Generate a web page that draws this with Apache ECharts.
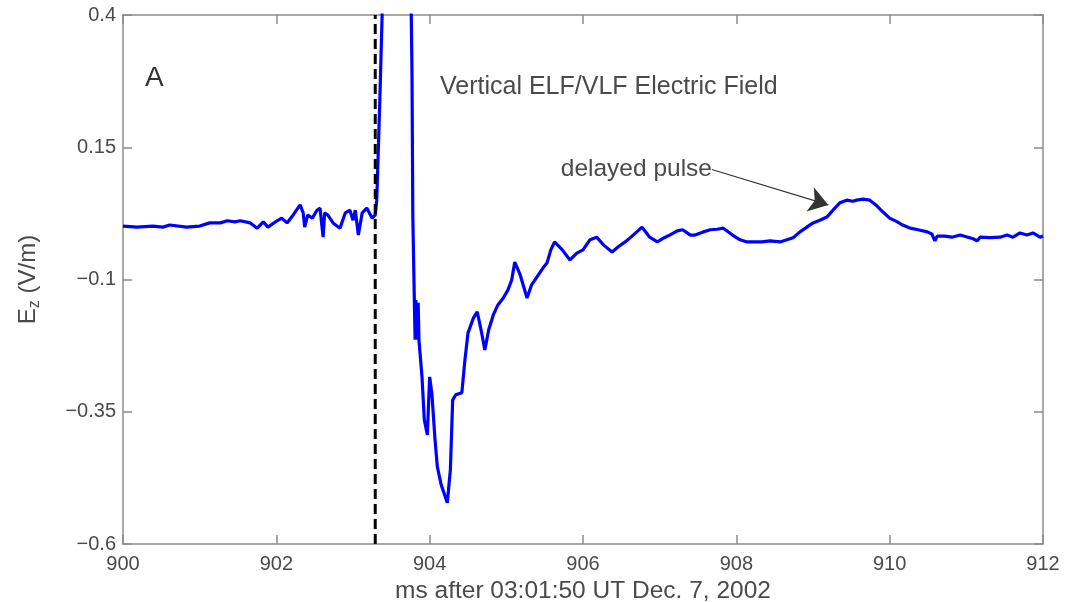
<!DOCTYPE html>
<html>
<head>
<meta charset="utf-8">
<script src="https://cdn.jsdelivr.net/npm/echarts@6/dist/echarts.min.js"></script>
<style>
html,body{margin:0;padding:0;background:#fff;}
#chart{width:1070px;height:602px;}
</style>
</head>
<body>
<div id="chart"></div>
<script>
// time axis (ms after 03:01:50 UT)
const timeMs = [900.00,900.18,900.39,900.52,900.61,900.83,901.00,901.13,901.27,901.36,901.46,901.53,901.66,901.75,901.83,901.89,902.01,902.07,902.14,902.22,902.31,902.35,902.37,902.41,902.47,902.53,902.57,902.61,902.63,902.67,902.74,902.83,902.90,902.96,903.00,903.03,903.07,903.12,903.18,903.25,903.29,903.31,903.33,903.35,903.38,903.45,903.65,903.76,903.77,903.78,903.80,903.81,903.82,903.84,903.85,903.86,903.87,903.90,903.93,903.97,903.99,904.00,904.03,904.07,904.10,904.15,904.23,904.27,904.30,904.34,904.42,904.46,904.50,904.57,904.62,904.67,904.72,904.77,904.83,904.89,904.96,905.02,905.07,905.11,905.18,905.27,905.33,905.40,905.48,905.53,905.58,905.63,905.73,905.83,905.92,906.00,906.09,906.18,906.27,906.38,906.46,906.55,906.64,906.77,906.87,906.97,907.06,907.13,907.23,907.30,907.40,907.46,907.57,907.66,907.75,907.83,907.95,908.05,908.14,908.22,908.33,908.44,908.57,908.66,908.74,908.83,908.92,909.00,909.09,909.18,909.26,909.35,909.44,909.52,909.57,909.65,909.74,909.82,909.91,910.00,910.10,910.17,910.27,910.37,910.49,910.55,910.59,910.62,910.72,910.81,910.92,911.02,911.09,911.14,911.18,911.31,911.44,911.53,911.61,911.70,911.79,911.87,911.96,912.00];
// vertical E field (V/m)
const ezField = [0.001,-0.001,0.001,-0.001,0.003,-0.001,0.001,0.007,0.007,0.011,0.009,0.011,0.007,-0.003,0.009,-0.001,0.011,0.016,0.007,0.022,0.041,0.026,-0.001,0.022,0.016,0.031,0.035,-0.020,0.026,0.022,0.007,-0.003,0.026,0.031,0.012,0.031,-0.016,0.026,0.035,0.016,0.022,0.050,0.145,0.239,0.400,1.0,1.0,0.400,0.283,0.022,-0.139,-0.214,-0.139,-0.214,-0.144,-0.214,-0.214,-0.284,-0.365,-0.394,-0.318,-0.284,-0.318,-0.403,-0.454,-0.488,-0.522,-0.460,-0.328,-0.318,-0.314,-0.252,-0.201,-0.173,-0.161,-0.195,-0.233,-0.195,-0.167,-0.148,-0.135,-0.120,-0.101,-0.067,-0.091,-0.135,-0.110,-0.095,-0.078,-0.069,-0.044,-0.029,-0.044,-0.063,-0.050,-0.044,-0.025,-0.020,-0.035,-0.048,-0.038,-0.029,-0.018,-0.001,-0.020,-0.029,-0.021,-0.016,-0.008,-0.006,-0.016,-0.016,-0.010,-0.006,-0.005,-0.003,-0.016,-0.025,-0.029,-0.029,-0.029,-0.027,-0.029,-0.025,-0.021,-0.010,-0.001,0.007,0.012,0.018,0.031,0.045,0.050,0.048,0.050,0.052,0.050,0.041,0.028,0.016,0.009,0.003,-0.003,-0.006,-0.010,-0.014,-0.027,-0.018,-0.018,-0.020,-0.016,-0.020,-0.023,-0.027,-0.020,-0.021,-0.020,-0.016,-0.020,-0.012,-0.016,-0.012,-0.020,-0.018];
const xTicks = [900, 902, 904, 906, 908, 910, 912];
const yTicks = [-0.6, -0.35, -0.1, 0.15, 0.4];
const onsetTime = [903.29, 903.29];
const onsetLevel = [-0.6, 0.4];
const arrowFrom = [907.68, 0.108];
const arrowTo = [909.20, 0.041];

const FONT = '"Liberation Sans", Arial, Helvetica, sans-serif';
const TXT = '#4a4a4a';
const AX = '#8c8c8c';

const fieldData = timeMs.map((t, i) => [t, ezField[i]]);
const onsetData = onsetTime.map((t, i) => [t, onsetLevel[i]]);
const fmtY = v => String(v).replace('-', '\u2212');

const chart = echarts.init(document.getElementById('chart'), null, {renderer: 'canvas'});
const axisCommon = {
  axisLine: {show: true, onZero: false, lineStyle: {color: AX, width: 1.5}},
  splitLine: {show: false}
};
chart.setOption({
  animation: false,
  backgroundColor: '#ffffff',
  grid: {left: 123, right: 27, top: 15, bottom: 58, containLabel: false, outerBoundsMode: 'none'},
  xAxis: [
    Object.assign({
      type: 'value', min: 900, max: 912, interval: 2, position: 'bottom',
      axisTick: {show: true, inside: true, length: 9, customValues: xTicks, lineStyle: {color: AX, width: 1.5}},
      axisLabel: {show: true, customValues: xTicks, margin: 10, color: TXT, fontSize: 20, fontFamily: FONT},
      name: 'ms after 03:01:50 UT Dec. 7, 2002', nameLocation: 'middle', nameGap: 30,
      nameTextStyle: {color: TXT, fontSize: 24.5, fontFamily: FONT}
    }, axisCommon),
    Object.assign({
      type: 'value', min: 900, max: 912, interval: 2, position: 'top',
      axisTick: {show: true, inside: true, length: 9, customValues: xTicks, lineStyle: {color: AX, width: 1.5}},
      axisLabel: {show: false}
    }, axisCommon)
  ],
  yAxis: [
    Object.assign({
      type: 'value', min: -0.6, max: 0.4, interval: 0.25, position: 'left',
      axisTick: {show: true, inside: true, length: 9, customValues: yTicks, lineStyle: {color: AX, width: 1.5}},
      axisLabel: {show: true, customValues: yTicks, margin: 7, color: TXT, fontSize: 20, fontFamily: FONT, formatter: fmtY},
      name: '{e|E}{s|z}{e| (V/m)}', nameLocation: 'middle', nameGap: 80, nameRotate: 90,
      nameTextStyle: {color: TXT, fontFamily: FONT, rich: {
        e: {fontSize: 24, color: TXT, fontFamily: FONT},
        s: {fontSize: 16, color: TXT, fontFamily: FONT, padding: [14, 0, 0, 0]}
      }}
    }, axisCommon),
    Object.assign({
      type: 'value', min: -0.6, max: 0.4, interval: 0.25, position: 'right',
      axisTick: {show: true, inside: true, length: 9, customValues: yTicks, lineStyle: {color: AX, width: 1.5}},
      axisLabel: {show: false}
    }, axisCommon)
  ],
  series: [
    {
      type: 'line', data: fieldData, xAxisIndex: 0, yAxisIndex: 0,
      symbol: 'none', clip: true, z: 3,
      lineStyle: {color: '#0000ff', width: 3.2}
    },
    {
      type: 'line', data: onsetData, xAxisIndex: 0, yAxisIndex: 0,
      symbol: 'none', clip: true, z: 4,
      lineStyle: {color: '#000000', width: 3, type: [10, 5]},
      markLine: {
        silent: true, animation: false,
        symbol: ['none', 'arrow'], symbolSize: 19,
        label: {show: false},
        itemStyle: {color: '#000'},
        lineStyle: {color: '#333', width: 1.2, type: 'solid'},
        data: [[{coord: arrowFrom}, {coord: arrowTo}]]
      }
    }
  ],
  graphic: [
    {type: 'text', x: 145, y: 78, style: {text: 'A', fill: '#333', font: '28px ' + FONT, verticalAlign: 'middle', align: 'left'}},
    {type: 'text', x: 440, y: 87, style: {text: 'Vertical ELF/VLF Electric Field', fill: TXT, font: '25px ' + FONT, verticalAlign: 'middle', align: 'left'}},
    {type: 'text', x: 712, y: 169, style: {text: 'delayed pulse', fill: TXT, font: '24.5px ' + FONT, verticalAlign: 'middle', align: 'right'}}
  ]
});
</script>
</body>
</html>
